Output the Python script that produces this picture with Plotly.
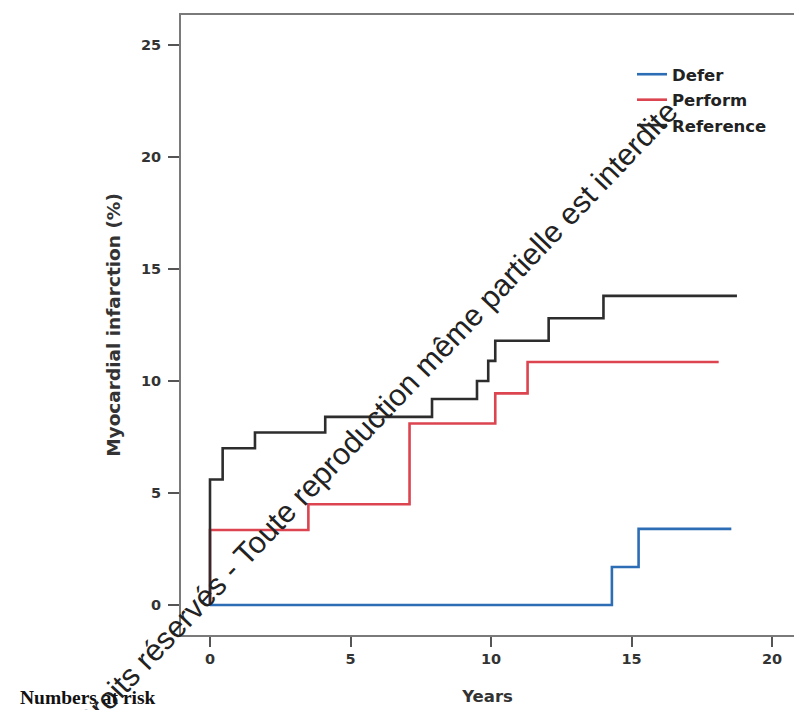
import plotly.graph_objects as go

# ---------------- data ----------------
defer_years = [0, 14.3, 15.25, 18.55]
defer_mi = [0, 1.7, 3.4, 3.4]

perform_years = [0, 0, 3.5, 7.1, 10.15, 11.3, 18.1]
perform_mi = [0, 3.35, 4.5, 8.1, 9.45, 10.85, 10.85]

reference_years = [0, 0, 0.45, 1.6, 4.1, 7.9, 9.5, 9.9, 10.15, 12.05, 14.0, 18.75]
reference_mi = [0, 5.6, 7.0, 7.7, 8.4, 9.2, 10.0, 10.9, 11.8, 12.8, 13.8, 13.8]

x_ticks = [0, 5, 10, 15, 20]
y_ticks = [0, 5, 10, 15, 20, 25]

series = [
    ("Defer", defer_years, defer_mi, "#2c6db5"),
    ("Perform", perform_years, perform_mi, "#dc4450"),
    ("Reference", reference_years, reference_mi, "#2d2d2d"),
]

# ---------------- layout geometry ----------------
W, H = 794, 710
L, R, T, B = 181, 0, 15, 75
PW, PH = W - L - R, H - T - B


def paper_x(px):
    return (px - L) / PW


def paper_y(py):
    return (H - B - py) / PH


fig = go.Figure()
for name, xs, ys, color in series:
    fig.add_trace(go.Scatter(
        x=xs, y=ys, name=name, mode="lines",
        line=dict(color=color, width=2.6, shape="hv"),
        legendgroup=name,
    ))

axis_font = dict(family="DejaVu Sans", size=14.5, color="#333333", weight="bold")

fig.update_layout(
    width=W, height=H,
    margin=dict(l=L, r=R, t=T, b=B, pad=0),
    paper_bgcolor="white", plot_bgcolor="white",
    showlegend=True,
    legend=dict(
        x=paper_x(632), y=paper_y(57), xanchor="left", yanchor="top",
        bgcolor="rgba(0,0,0,0)", borderwidth=0,
        font=dict(family="DejaVu Sans", size=16.5, color="#222222", weight="bold"),
        tracegroupgap=1, itemwidth=30,
    ),
    xaxis=dict(
        range=[-1.032, 20.78], tickvals=x_ticks, ticktext=[str(v) for v in x_ticks],
        showgrid=False, zeroline=False,
        showline=True, linecolor="#7a7a7a", linewidth=2, mirror=True,
        ticks="outside", ticklen=10, tickwidth=1.5, tickcolor="#555555",
        tickfont=axis_font,
        title=dict(text="Years", font=dict(family="DejaVu Sans", size=16.5, color="#333333", weight="bold"), standoff=24),
        automargin=False,
    ),
    yaxis=dict(
        range=[-1.339, 26.34], tickvals=y_ticks, ticktext=[str(v) for v in y_ticks],
        showgrid=False, zeroline=False,
        showline=True, linecolor="#7a7a7a", linewidth=2, mirror=False,
        ticks="outside", ticklen=11, tickwidth=1.5, tickcolor="#555555",
        tickfont=axis_font, ticklabelstandoff=4,
        title=dict(text="Myocardial infarction (%)", font=dict(family="DejaVu Sans", size=18.5, color="#333333", weight="bold"), standoff=15),
        automargin=False,
    ),
)

# diagonal watermark line
fig.add_annotation(
    text="Droits réservés - Toute reproduction même partielle est interdite",
    x=paper_x(375), y=paper_y(417), xref="paper", yref="paper",
    xanchor="center", yanchor="middle", showarrow=False, textangle=-46.4,
    font=dict(family="Liberation Sans", size=30.5, color="#222222"),
)

# numbers at risk caption
fig.add_annotation(
    text="Numbers at risk", x=paper_x(18), y=paper_y(697), xref="paper", yref="paper",
    xanchor="left", yanchor="middle", showarrow=False,
    font=dict(family="Liberation Serif", size=19.5, color="#111111", weight="bold"),
)

fig.write_html("out.html")
